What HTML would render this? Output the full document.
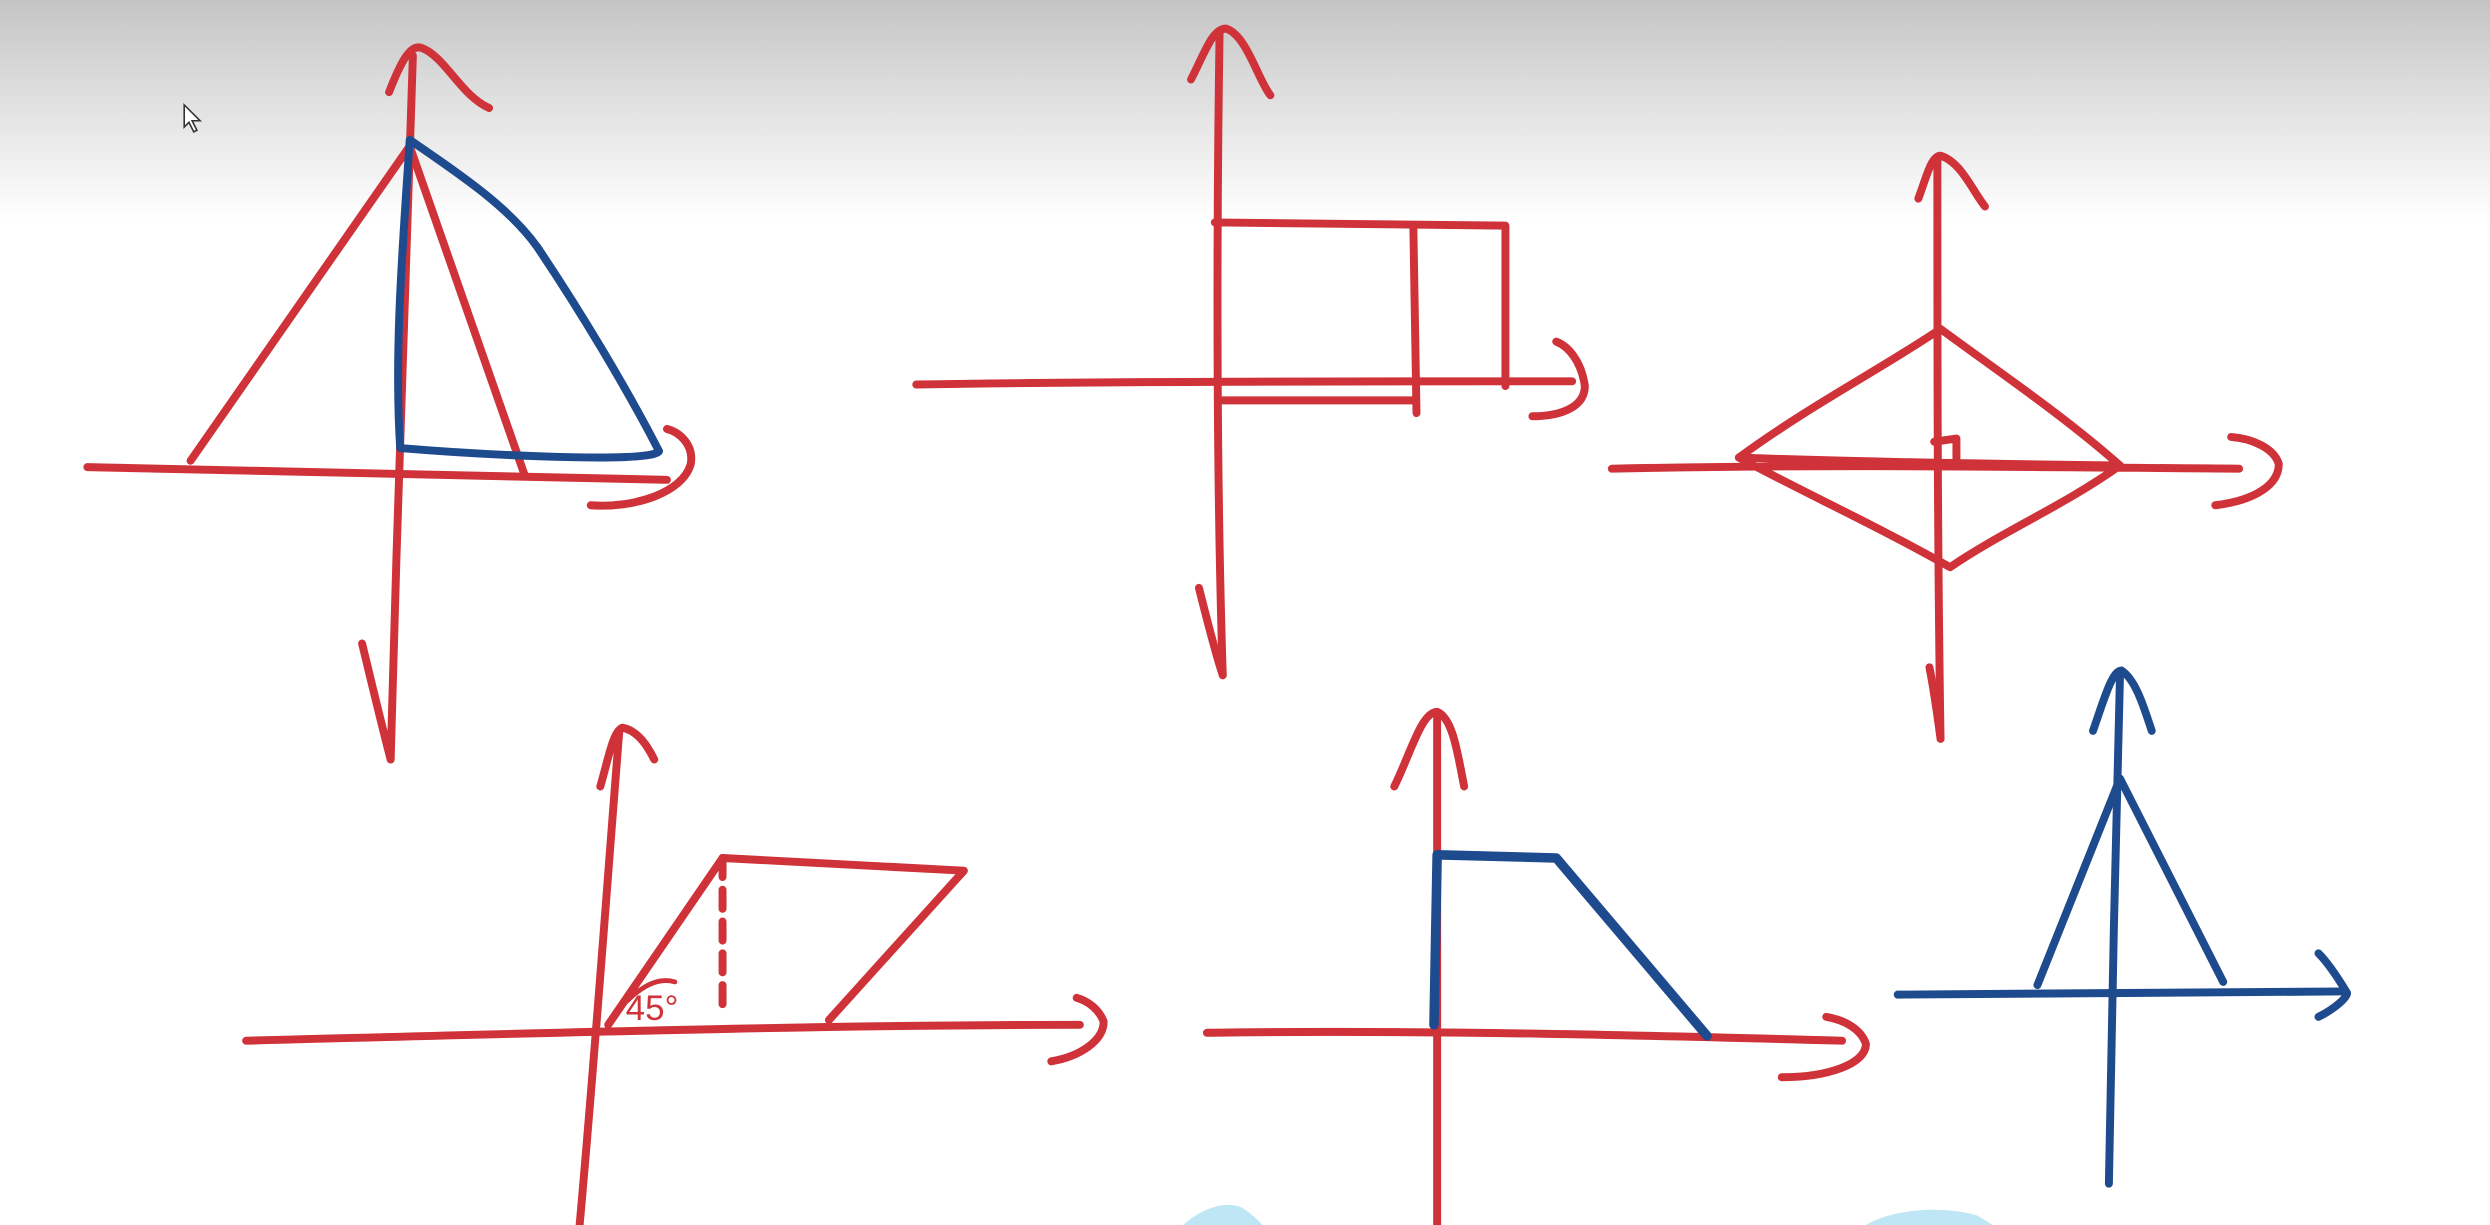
<!DOCTYPE html>
<html><head><meta charset="utf-8"><style>
html,body{margin:0;padding:0;width:2490px;height:1225px;overflow:hidden;background:#fff}
svg{display:block}
</style></head><body>
<svg width="2490" height="1225" viewBox="0 0 1568 771" preserveAspectRatio="none" xmlns="http://www.w3.org/2000/svg">
<defs>
<linearGradient id="bg" x1="0" y1="0" x2="0" y2="1">
<stop offset="0" stop-color="#c4c4c4"/><stop offset="0.07" stop-color="#dcdcdc"/><stop offset="0.18" stop-color="#ffffff"/><stop offset="1" stop-color="#ffffff"/>
</linearGradient>
</defs>
<rect x="0" y="0" width="1568" height="771" fill="url(#bg)"/>
<g fill="none" stroke-linecap="round" stroke-linejoin="round" stroke-width="5">
<g stroke="#cf3238">
<path d="M246,478 C250,330 255,180 260,35"/>
<path d="M245,58 C252,40 258,28 265,30 C280,35 290,60 308,68"/>
<path d="M228,405 C234,430 240,455 246,478"/>
<path d="M55,294 L420,302"/>
<path d="M372,318 C400,320 430,310 435,292 C437,280 428,272 420,270"/>
<path d="M120,290 L258,92 L330,298"/>
</g>
<path stroke="#1e4a8e" d="M258,88 C290,110 320,130 338,155 C365,195 395,245 415,284 C410,292 300,286 252,282 C248,220 254,150 258,88"/>
<g stroke="#cf3238">
<path d="M770,425 C766,300 766,150 768,20"/>
<path d="M750,50 C758,35 763,18 772,18 C785,22 792,50 800,60"/>
<path d="M755,370 C760,390 765,410 770,425"/>
<path d="M577,242 C700,240 850,240 990,240"/>
<path d="M965,262 C985,262 998,255 998,243 C996,228 988,218 980,215"/>
<path d="M765,140 L948,142 L948,243"/>
<path d="M890,142 L892,260"/>
<path d="M770,252 L890,252"/>
</g>
<g stroke="#cf3238">
<path d="M1222,465 C1220,340 1220,220 1220,100"/>
<path d="M1208,125 C1213,112 1216,98 1222,98 C1235,102 1242,120 1250,130"/>
<path d="M1215,420 C1218,435 1220,450 1222,465"/>
<path d="M1015,295 C1150,292 1280,294 1410,295"/>
<path d="M1395,318 C1420,315 1435,305 1435,292 C1432,282 1418,276 1405,275"/>
<path d="M1095,288 C1140,255 1185,232 1222,207 C1260,235 1300,262 1335,293 C1300,318 1260,335 1228,357 C1180,330 1140,312 1095,288"/>
<path d="M1095,288 C1180,291 1260,292 1335,293"/>
<path d="M1218,278 L1232,276 L1232,290"/>
</g>
<g stroke="#cf3238">
<path d="M365,771 C375,660 382,560 390,460"/>
<path d="M378,495 C383,478 386,460 392,458 C402,460 408,470 412,478"/>
<path d="M155,655 C350,650 520,645 680,645"/>
<path d="M662,668 C680,665 695,655 695,643 C692,635 685,630 678,628"/>
<path d="M383,645 L455,540 L607,548 L522,642"/>
<path d="M455,540 L455,640" stroke-dasharray="12,8"/>
<path d="M395,630 C405,620 415,615 425,618" stroke-width="3"/>
</g>
<text x="394" y="642" font-family="Liberation Sans, sans-serif" font-size="22" fill="#cf3238">45°</text>
<g stroke="#cf3238">
<path d="M905,771 C905,660 905,560 905,450"/>
<path d="M878,495 C888,475 895,448 905,448 C915,452 918,475 922,495"/>
<path d="M760,650 C900,648 1050,652 1160,655"/>
<path d="M1122,678 C1150,678 1175,670 1175,657 C1172,648 1162,642 1150,640"/>
</g>
<path stroke="#1e4a8e" stroke-width="6" d="M903,645 L905,538 L980,540 L1075,652"/>
<g stroke="#1e4a8e">
<path d="M1328,745 C1330,640 1332,530 1335,425"/>
<path d="M1318,460 C1325,440 1330,422 1336,422 C1345,428 1350,445 1355,460"/>
<path d="M1195,626 L1475,624"/>
<path d="M1460,640 C1470,635 1478,628 1478,625 C1472,615 1465,605 1460,600"/>
<path d="M1283,620 L1335,490 L1400,618"/>
</g>
</g>
<path d="M116,66 L116,80 L119,77 L122,83 L124,82 L121,76 L126,76 Z" fill="#fff" stroke="#333" stroke-width="1"/>
<path d="M745,771 C755,762 770,755 782,760 C790,765 795,771 795,771 Z" fill="#bfe6f5"/>
<path d="M1175,771 C1190,762 1220,758 1245,765 L1255,771 Z" fill="#bfe6f5"/>
</svg>
</body></html>
